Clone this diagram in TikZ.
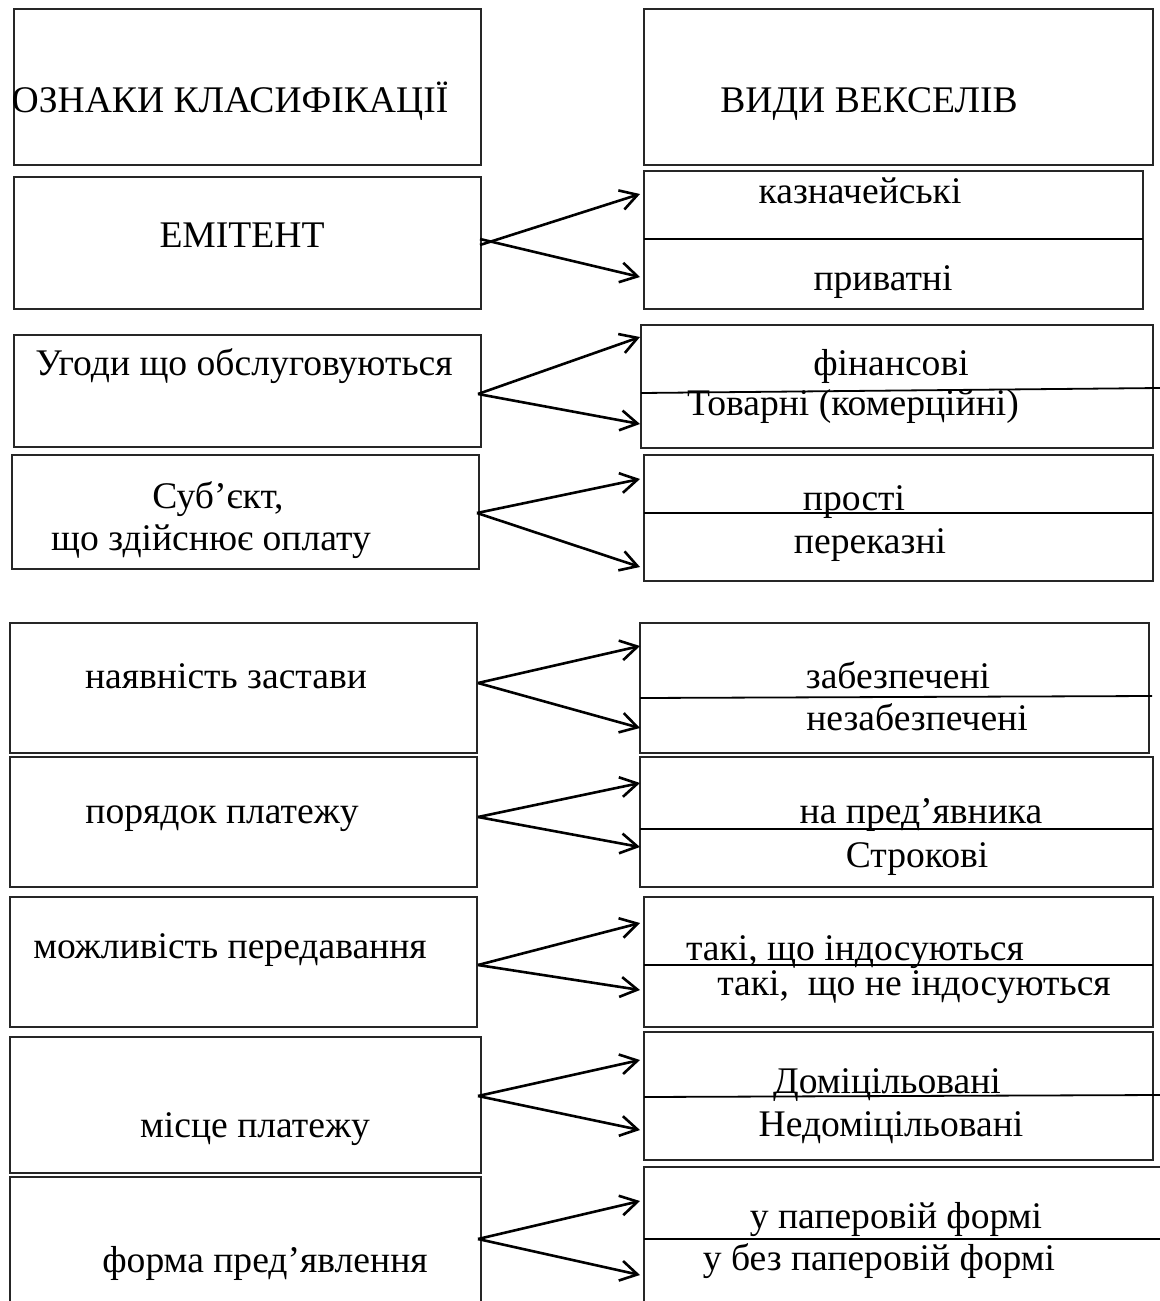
\documentclass[tikz,border=0pt]{standalone}
\usepackage{fontspec}
\setmainfont{Liberation Serif}
\usetikzlibrary{arrows.meta,fit}
\begin{document}
\begin{tikzpicture}[x=0.5pt,y=-0.5pt,
  box/.style={draw=black!85, line width=0.6pt, inner sep=0pt},
  cellline/.style={line width=0.9pt},
  txt/.style={anchor=base, inner sep=0pt, font=\fontsize{18.8}{22}\selectfont},
  link/.style={line width=1.3pt, -{Straight Barb[length=8.5pt,width=10pt,line width=1.3pt]}}
]
\useasboundingbox (0,0) rectangle (1160,1301);

% left column: classification features
\node[box, fit={(14,9) (481,165)}]    (L1) {};
\node[box, fit={(14,177) (481,309)}]  (L2) {};
\node[box, fit={(14,335) (481,447)}]  (L3) {};
\node[box, fit={(12,455) (479,569)}]  (L4) {};
\node[box, fit={(10,623) (477,753)}]  (L5) {};
\node[box, fit={(10,757) (477,887)}]  (L6) {};
\node[box, fit={(10,897) (477,1027)}] (L7) {};
\node[box, fit={(10,1037) (481,1173)}] (L8) {};
\node[box, fit={(10,1177) (481,1320)}] (L9) {};

% right column: kinds of bills
\node[box, fit={(644,9) (1153,165)}]    (R1) {};
\node[box, fit={(644,171) (1143,309)}]  (R2) {};
\node[box, fit={(641,325) (1153,448)}]  (R3) {};
\node[box, fit={(644,455) (1153,581)}]  (R4) {};
\node[box, fit={(640,623) (1149,753)}]  (R5) {};
\node[box, fit={(640,757) (1153,887)}]  (R6) {};
\node[box, fit={(644,897) (1153,1027)}] (R7) {};
\node[box, fit={(644,1032) (1153,1160)}] (R8) {};
\node[box, fit={(644,1167) (1175,1320)}] (R9) {};

% dividers between the two kinds in each right box
\draw[cellline] (644,239) -- (1143,239);
\draw[cellline] (641,393) -- (1160,388);
\draw[cellline] (644,513) -- (1153,513);
\draw[cellline] (640,698) -- (1152,696);
\draw[cellline] (640,829) -- (1153,829);
\draw[cellline] (644,965) -- (1153,965);
\draw[cellline] (644,1097) -- (1160,1095);
\draw[cellline] (644,1239) -- (1160,1239);

% texts
\node[txt] (tL1) at (230,112) {ОЗНАКИ КЛАСИФІКАЦІЇ};
\node[txt] (tR1) at (869,112) {ВИДИ ВЕКСЕЛІВ};
\node[txt] (tL2) at (242,247) {ЕМІТЕНТ};
\node[txt] (tR2a) at (860,203) {казначейські};
\node[txt] (tR2b) at (883,290) {приватні};
\node[txt] (tL3) at (244,375) {Угоди що обслуговуються};
\node[txt] (tR3a) at (891,375) {фінансові};
\node[txt] (tR3b) at (853,415) {Товарні (комерційні)};
\node[txt] (tL4a) at (218,508) {Суб’єкт,};
\node[txt] (tL4b) at (211,550) {що здійснює оплату};
\node[txt] (tR4a) at (854,510) {прості};
\node[txt] (tR4b) at (870,553) {переказні};
\node[txt] (tL5) at (226,688) {наявність застави};
\node[txt] (tR5a) at (898,688) {забезпечені};
\node[txt] (tR5b) at (917,730) {незабезпечені};
\node[txt] (tL6) at (222,823) {порядок платежу};
\node[txt] (tR6a) at (921,823) {на пред’явника};
\node[txt] (tR6b) at (917,867) {Строкові};
\node[txt] (tL7) at (230,958) {можливість передавання};
\node[txt] (tR7a) at (855,960) {такі, що індосуються};
\node[txt] (tR7b) at (914,995) {такі,\ \ що не індосуються};
\node[txt] (tL8) at (255,1137) {місце платежу};
\node[txt] (tR8a) at (887,1093) {Доміцільовані};
\node[txt] (tR8b) at (891,1136) {Недоміцільовані};
\node[txt] (tL9) at (265,1272) {форма пред’явлення};
\node[txt] (tR9a) at (896,1228) {у паперовій формі};
\node[txt] (tR9b) at (879,1270) {у без паперовій формі};

% connector end points
\coordinate (s2a) at (480,245); \coordinate (s2b) at (480,239);
\coordinate (s3) at (478,394);
\coordinate (s4) at (477,513);
\coordinate (s5) at (478,683);
\coordinate (s6) at (478,817);
\coordinate (s7) at (478,965);
\coordinate (s8) at (478,1096);
\coordinate (s9) at (478,1239);
\coordinate (e2a) at (640,194); \coordinate (e2b) at (640,277);
\coordinate (e3a) at (640,337); \coordinate (e3b) at (640,424);
\coordinate (e4a) at (640,479); \coordinate (e4b) at (640,567);
\coordinate (e5a) at (640,646); \coordinate (e5b) at (640,728);
\coordinate (e6a) at (640,783); \coordinate (e6b) at (640,847);
\coordinate (e7a) at (640,923); \coordinate (e7b) at (640,990);
\coordinate (e8a) at (640,1060); \coordinate (e8b) at (640,1130);
\coordinate (e9a) at (640,1201); \coordinate (e9b) at (640,1275);

% forked arrows
\draw[link] (s2a) -- (e2a);
\draw[link] (s2b) -- (e2b);
\foreach \k in {3,...,9}{
  \draw[link] (s\k) -- (e\k a);
  \draw[link] (s\k) -- (e\k b);
}
\end{tikzpicture}
\end{document}
